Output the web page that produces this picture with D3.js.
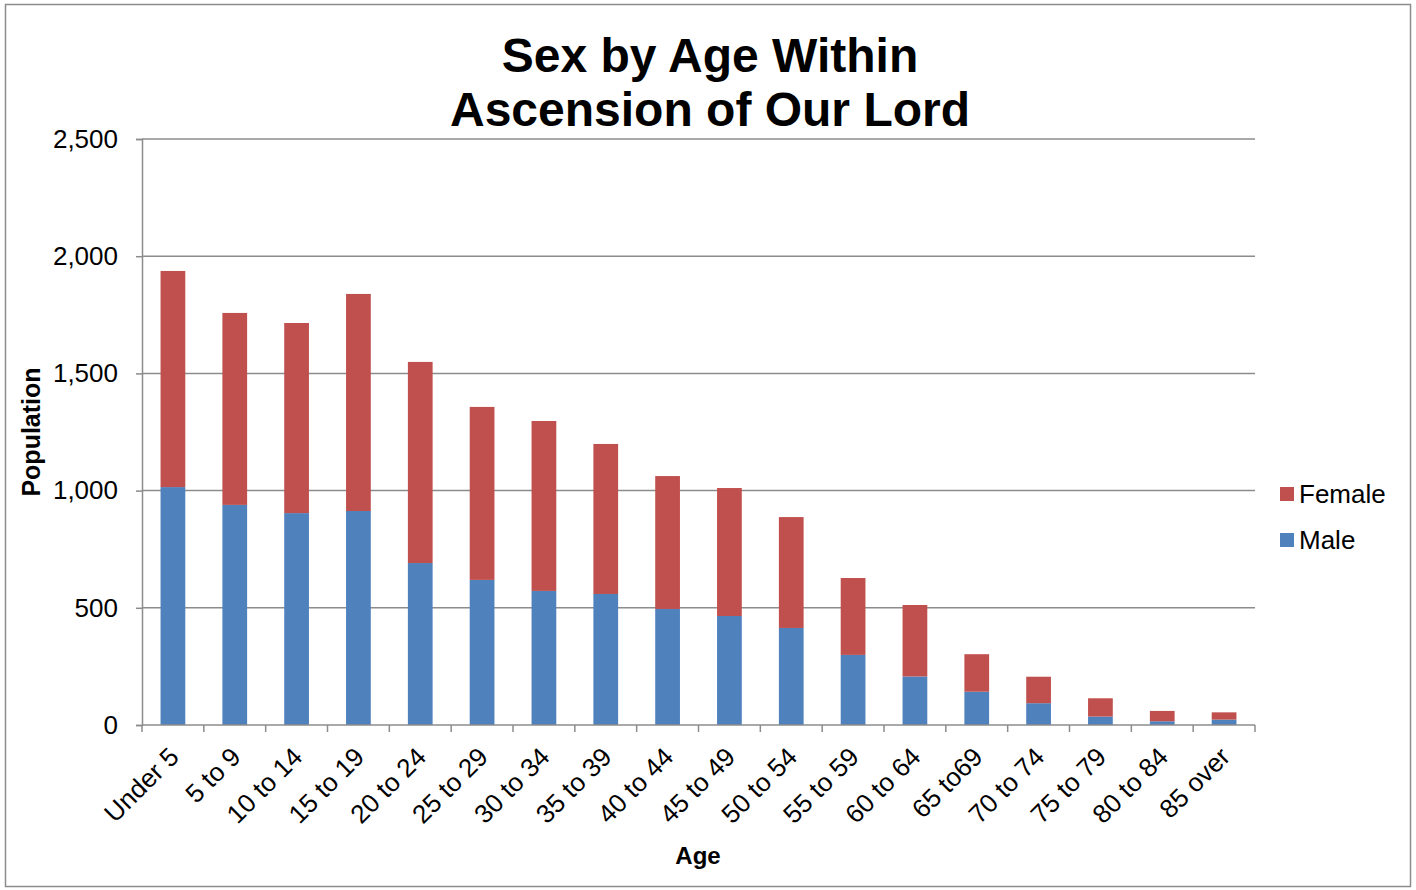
<!DOCTYPE html>
<html>
<head>
<meta charset="utf-8">
<script src="https://cdn.jsdelivr.net/npm/d3@7"></script>
<style>
  body { margin: 0; background: #fff; }
  svg { font-family: "Liberation Sans", Arial, sans-serif; }
</style>
</head>
<body>
<div id="chart"></div>
<script>
// dati
var ageGroups = ["Under 5", "5 to 9", "10 to 14", "15 to 19", "20 to 24", "25 to 29",
                 "30 to 34", "35 to 39", "40 to 44", "45 to 49", "50 to 54", "55 to 59",
                 "60 to 64", "65 to69", "70 to 74", "75 to 79", "80 to 84", "85 over"];
var male   = [1015, 939, 904, 913, 691, 619, 572, 559, 495, 465, 414, 299, 207, 142, 93, 36, 16, 23];
var female = [922, 819, 811, 926, 858, 738, 725, 640, 567, 546, 473, 328, 305, 160, 113, 78, 44, 31];
var seriesNames = ["Male", "Female"];
var seriesColors = ["#4F81BD", "#C0504D"];
var yTicks = [0, 500, 1000, 1500, 2000, 2500];

var width = 1416;
var height = 890;
var margin = {left: 142, right: 161, top: 139, bottom: 165};

var svg = d3.select("#chart")
            .append("svg")
            .attr("width", width)
            .attr("height", height);

// cornice esterna
svg.append("rect")
   .attr("x", 5.5).attr("y", 4.5)
   .attr("width", 1405).attr("height", 882)
   .attr("fill", "white")
   .attr("stroke", "#8c8c8c")
   .attr("stroke-width", 1.5);

var x = d3.scaleBand()
          .domain(ageGroups)
          .range([margin.left, width - margin.right])
          .paddingInner(0.6)
          .paddingOuter(0.3);

var y = d3.scaleLinear()
          .domain([0, 2500])
          .range([height - margin.bottom, margin.top]);

// griglia orizzontale
svg.append("g")
   .selectAll("line")
   .data(yTicks.filter(d => d > 0))
   .enter()
   .append("line")
   .attr("x1", margin.left)
   .attr("x2", width - margin.right)
   .attr("y1", d => y(d))
   .attr("y2", d => y(d))
   .attr("stroke", "#8c8c8c")
   .attr("stroke-width", 1.5);

// asse y
var yAxis = svg.append("g")
               .attr("transform", `translate(${margin.left},0)`)
               .call(d3.axisLeft(y).tickValues(yTicks).tickSize(6).tickPadding(18)
                       .tickFormat(d3.format(",")));
yAxis.select(".domain").attr("stroke", "#8c8c8c").attr("stroke-width", 1.5);
yAxis.selectAll(".tick line").attr("stroke", "#8c8c8c").attr("stroke-width", 1.5);
yAxis.selectAll("text")
     .attr("font-size", 26)
     .attr("fill", "#000")
     .attr("font-family", "Liberation Sans, Arial, sans-serif");

// barre impilate
var stackData = ageGroups.map((g, i) => ({age: g, Male: male[i], Female: female[i]}));
var stack = d3.stack().keys(seriesNames)(stackData);

svg.append("g")
   .selectAll("g")
   .data(stack)
   .enter()
   .append("g")
   .attr("fill", (d, i) => seriesColors[i])
   .selectAll("rect")
   .data(d => d)
   .enter()
   .append("rect")
   .attr("x", d => x(d.data.age))
   .attr("width", x.bandwidth())
   .attr("y", d => y(d[1]))
   .attr("height", d => y(d[0]) - y(d[1]));

// asse x
var x0 = margin.left;
var xBottom = height - margin.bottom;
svg.append("line")
   .attr("x1", x0).attr("x2", width - margin.right)
   .attr("y1", xBottom).attr("y2", xBottom)
   .attr("stroke", "#8c8c8c").attr("stroke-width", 1.5);

var boundaries = d3.range(ageGroups.length + 1).map(i => x0 + i * (width - margin.right - x0) / ageGroups.length);
svg.append("g")
   .selectAll("line")
   .data(boundaries)
   .enter()
   .append("line")
   .attr("x1", d => d).attr("x2", d => d)
   .attr("y1", xBottom).attr("y2", xBottom + 7)
   .attr("stroke", "#8c8c8c").attr("stroke-width", 1.5);

svg.append("g")
   .selectAll("text")
   .data(ageGroups)
   .enter()
   .append("text")
   .attr("transform", d => `translate(${x(d) + x.bandwidth() / 2 + 1},${xBottom + 27}) rotate(-45)`)
   .attr("text-anchor", "end")
   .attr("font-size", 26)
   .attr("dy", "0.35em")
   .text(d => d);

// titoli
var title = svg.append("text")
               .attr("text-anchor", "middle")
               .attr("font-size", 48)
               .attr("font-weight", "bold");
title.append("tspan").attr("x", 710).attr("y", 72).text("Sex by Age Within");
title.append("tspan").attr("x", 710).attr("y", 126).text("Ascension of Our Lord");

svg.append("text")
   .attr("x", 698).attr("y", 864)
   .attr("text-anchor", "middle")
   .attr("font-size", 24)
   .attr("font-weight", "bold")
   .text("Age");

svg.append("text")
   .attr("transform", "translate(40,432) rotate(-90)")
   .attr("text-anchor", "middle")
   .attr("font-size", 25)
   .attr("font-weight", "bold")
   .text("Population");

// legenda (Female sopra, Male sotto)
var legendItems = [{name: "Female", color: seriesColors[1]}, {name: "Male", color: seriesColors[0]}];
var legend = svg.append("g")
                .selectAll("g")
                .data(legendItems)
                .enter()
                .append("g")
                .attr("transform", (d, i) => `translate(1280,${494 + i * 46})`);
legend.append("rect")
      .attr("x", 0).attr("y", -7)
      .attr("width", 14).attr("height", 14)
      .attr("fill", d => d.color);
legend.append("text")
      .attr("x", 19)
      .attr("dy", "0.35em")
      .attr("font-size", 26)
      .text(d => d.name);
</script>
</body>
</html>
